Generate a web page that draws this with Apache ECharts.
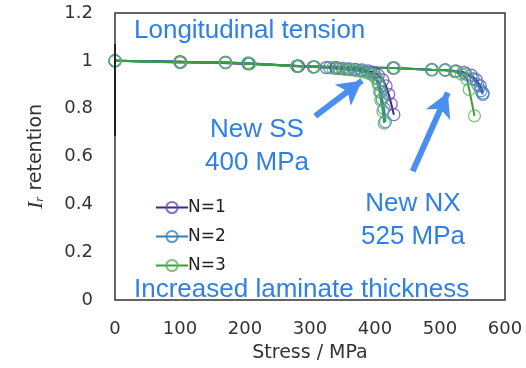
<!DOCTYPE html>
<html>
<head>
<meta charset="utf-8">
<script src="https://cdn.jsdelivr.net/npm/echarts@6/dist/echarts.min.js"></script>
<style>html,body{margin:0;padding:0;background:#fff}#c{width:526px;height:368px}</style>
</head>
<body>
<div id="c"></div>
<script>
// ---- data (stress MPa, retention) ----
var legendNames = ['N=1', 'N=2', 'N=3'];
var n1SS = [[0,1.0],[100,0.996],[205,0.988],[282,0.978],[305,0.975],[325,0.972],[340,0.970],[350,0.968],[360,0.966],[370,0.964],[380,0.962],[390,0.958],[398,0.952],[405,0.940],[412,0.920],[417,0.895],[421,0.860],[425,0.820],[429,0.775]];
var n1NX = [[0,1.0],[100,0.996],[205,0.988],[282,0.978],[340,0.972],[428,0.970],[488,0.963],[508,0.962],[524,0.958],[537,0.952],[548,0.940],[556,0.920],[562,0.895],[566,0.865]];
var n2SS = [[0,1.0],[101,0.995],[170,0.993],[205,0.990],[280,0.978],[307,0.975],[330,0.972],[345,0.968],[357,0.965],[368,0.962],[378,0.958],[388,0.953],[396,0.945],[402,0.930],[406,0.905],[409,0.870],[411,0.840],[414,0.800],[416,0.745]];
var n2NX = [[0,1.0],[101,0.995],[170,0.993],[205,0.990],[280,0.978],[428,0.970],[487,0.963],[508,0.962],[525,0.956],[540,0.945],[551,0.925],[558,0.900],[563,0.875],[566,0.860]];
var n3SS = [[0,1.0],[100,0.993],[170,0.993],[207,0.988],[280,0.977],[305,0.974],[335,0.970],[343,0.968],[353,0.965],[363,0.962],[372,0.958],[381,0.954],[390,0.948],[397,0.940],[402,0.925],[405,0.900],[407,0.870],[409,0.835],[412,0.790],[414,0.740]];
var n3NX = [[0,1.0],[100,0.993],[170,0.993],[207,0.988],[280,0.977],[430,0.970],[487,0.962],[508,0.960],[522,0.955],[533,0.945],[541,0.925],[545,0.880],[553,0.770]];
var xTicks = {min: 0, max: 600, step: 100};
var yTicks = {min: 0, max: 1.2, step: 0.2};
// annotation arrows (data coords: start -> end)
var arrowSS = [[308, 0.769], [380, 0.917]];
var arrowNX = [[458, 0.538], [512, 0.867]];
var leftBar = [[0, 0.686], [0, 1.07]];

var colors = {
  'N=1': {line: '#45238f', sym: 'rgba(105,75,180,0.8)'},
  'N=2': {line: '#2f7fb5', sym: 'rgba(55,135,190,0.8)'},
  'N=3': {line: '#3a9e3a', sym: 'rgba(95,180,95,0.8)'}
};
function mk(name, data) {
  var c = colors[name];
  return {
    name: name, type: 'line', data: data, symbol: 'circle', symbolSize: 12,
    showAllSymbol: true, animation: false,
    lineStyle: {color: c.line, width: 2},
    itemStyle: {color: 'rgba(255,255,255,0)', borderColor: c.sym, borderWidth: 1.3},
    emphasis: {disabled: true}
  };
}
var chart = echarts.init(document.getElementById('c'), null, {renderer: 'canvas'});
var blue = '#2f80e6';
var arrowColor = '#4a8ff0';
chart.setOption({
  animation: false,
  grid: {left: 115, right: 21, top: 13, bottom: 63, show: true, borderColor: '#333', borderWidth: 1.5, backgroundColor: 'transparent'},
  legend: {
    data: legendNames, orient: 'vertical', left: 150, top: 194, itemGap: 12,
    itemWidth: 32, itemHeight: 14,
    textStyle: {fontFamily: 'DejaVu Sans', fontSize: 17, color: '#222', padding: [0,0,0,-5]}
  },
  xAxis: {
    type: 'value', min: xTicks.min, max: xTicks.max, interval: xTicks.step,
    name: 'Stress / MPa', nameLocation: 'middle', nameGap: 44,
    nameTextStyle: {fontFamily: 'DejaVu Sans', fontSize: 19, color: '#333'},
    axisLine: {show: false}, axisTick: {show: false}, splitLine: {show: false},
    axisLabel: {fontFamily: 'DejaVu Sans', fontSize: 18, color: '#333', margin: 20}
  },
  yAxis: {
    type: 'value', min: yTicks.min, max: yTicks.max, interval: yTicks.step,
    name: '{i|I}{s|r}{t| retention}', nameLocation: 'middle', nameGap: 68,
    nameTextStyle: {
      rich: {
        i: {fontFamily: 'Liberation Serif', fontStyle: 'italic', fontSize: 22, color: '#333'},
        s: {fontFamily: 'Liberation Serif', fontStyle: 'italic', fontSize: 13, color: '#333', padding: [8,0,0,0]},
        t: {fontFamily: 'DejaVu Sans', fontSize: 19, color: '#333'}
      }
    },
    axisLine: {show: false}, axisTick: {show: false}, splitLine: {show: false},
    axisLabel: {fontFamily: 'DejaVu Sans', fontSize: 18, color: '#333', margin: 22}
  },
  series: [
    mk('N=1', n1SS), mk('N=1', n1NX),
    mk('N=2', n2SS), mk('N=2', n2NX),
    mk('N=3', n3SS), mk('N=3', n3NX),
    {
      name: 'annot', type: 'line', data: [], silent: true,
      markLine: {
        silent: true, animation: false, label: {show: false},
        symbol: 'none', symbolSize: 24,
        lineStyle: {color: arrowColor, width: 6, type: 'solid'},
        itemStyle: {color: arrowColor},
        emphasis: {disabled: true},
        data: [
          [{coord: arrowSS[0], symbol: 'none'}, {coord: arrowSS[1], symbol: 'arrow', symbolSize: [20, 24]}],
          [{coord: arrowNX[0], symbol: 'none'}, {coord: arrowNX[1], symbol: 'arrow', symbolSize: [20, 24]}],
          [{coord: leftBar[0], symbol: 'none', lineStyle: {color: '#222', width: 2}}, {coord: leftBar[1], symbol: 'none'}]
        ]
      }
    }
  ],
  graphic: [
    {type: 'text', silent: true, style: {text: 'Longitudinal tension', x: 134, y: 31, textVerticalAlign: 'middle', font: '26px "Liberation Sans"', fill: blue}},
    {type: 'text', silent: true, style: {text: 'Increased laminate thickness', x: 134, y: 290, textVerticalAlign: 'middle', font: '26px "Liberation Sans"', fill: blue}},
    {type: 'text', silent: true, style: {text: 'New SS\n400 MPa', x: 257, y: 146, textAlign: 'center', textVerticalAlign: 'middle', lineHeight: 33, font: '26px "Liberation Sans"', fill: blue}},
    {type: 'text', silent: true, style: {text: 'New NX\n525 MPa', x: 413, y: 220, textAlign: 'center', textVerticalAlign: 'middle', lineHeight: 33, font: '26px "Liberation Sans"', fill: blue}}
  ]
});
</script>
</body>
</html>
